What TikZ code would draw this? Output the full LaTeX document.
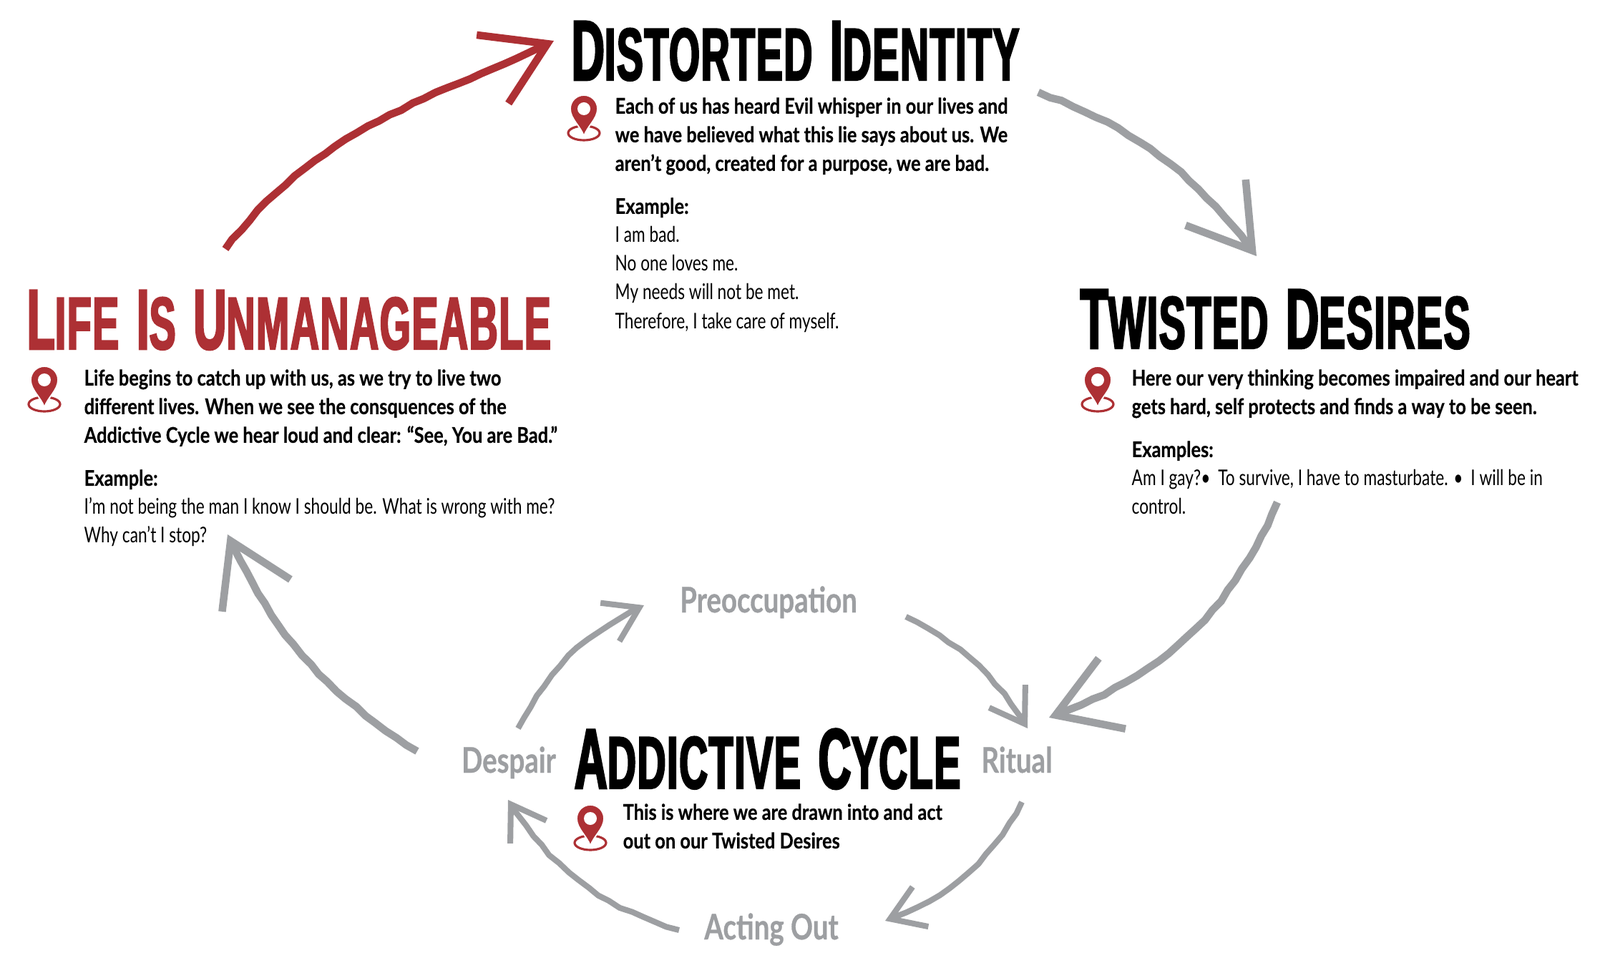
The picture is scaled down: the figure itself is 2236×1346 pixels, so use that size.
\documentclass[tikz,border=0pt]{standalone}
\usepackage{fontspec}
\setmainfont{Lato}[FakeStretch=0.75,BoldFeatures={FakeStretch=0.84,FakeBold=0.4}]
\newfontfamily\titleFont{Liberation Sans}[FakeStretch=0.535,LetterSpace=1.5,BoldFeatures={FakeStretch=0.535,FakeBold=2.2,LetterSpace=1.5}]
\newfontfamily\stageFont{Lato}[FakeStretch=0.78,BoldFeatures={FakeStretch=0.78,FakeBold=0.6}]
\usetikzlibrary{arrows.meta, bending, decorations.pathmorphing}
\definecolor{pinRed}{RGB}{173, 48, 52}
\definecolor{chalkGray}{RGB}{157, 159, 162}

% small-caps titles: big first letter, smaller rest
\newcommand{\bigCap}[2]{{\fontsize{34}{34}\selectfont #1}{\fontsize{29.5}{30}\selectfont #2}}
\newcommand{\titleGap}{\hspace{7pt}}
\newcommand{\lineStrut}{\rule{0pt}{8pt}}

\tikzset{
    titleText/.style={anchor=base west, inner sep=0pt, font=\titleFont\bfseries},
    bodyText/.style={anchor=north west, inner sep=0pt, align=left, font=\fontsize{8.6}{11.38}\selectfont},
    stageText/.style={anchor=base, inner sep=0pt, text=chalkGray, font=\stageFont\fontsize{14}{16}\selectfont\bfseries},
    chalkLine/.style={line width=3pt, draw=chalkGray, decorate, decoration={random steps, segment length=5pt, amplitude=0.35pt, post length=6pt}},
    outerArrow/.style={chalkLine, -{Straight Barb[length=24pt, width=30pt, bend]}},
    innerArrow/.style={chalkLine, line width=2.3pt, -{Straight Barb[length=13pt, width=17pt, bend]}},
    pinIcon/.pic={
        \draw[pinRed, line width=0.9pt] (0,0) ellipse [x radius=22, y radius=10];
        \fill[pinRed, draw=white, line width=0.5pt] (0,4) .. controls (-5,-10) and (-19,-20) .. (-19,-34)
            .. controls (-19,-45) and (-10,-53) .. (0,-53)
            .. controls (10,-53) and (19,-45) .. (19,-34)
            .. controls (19,-20) and (5,-10) .. (0,4) -- cycle;
        \fill[white] (0,-34) ellipse [x radius=9, y radius=9];
    }
}

\begin{document}
\begin{tikzpicture}[x=0.01cm, y=-0.01cm]
    \useasboundingbox (0,0) rectangle (2236,1346);

    % titles
    \node[titleText] (distTitle) at (798,112) {\bigCap{D}{ISTORTED}\titleGap\bigCap{I}{DENTITY}};
    \node[titleText, text=pinRed] (lifeTitle) at (37,488) {\bigCap{L}{IFE}\titleGap\bigCap{I}{S}\titleGap\bigCap{U}{NMANAGEABLE}};
    \node[titleText] (twistTitle) at (1509,487) {\bigCap{T}{WISTED}\titleGap\bigCap{D}{ESIRES}};
    \node[titleText] (addTitle) at (802,1102) {\bigCap{A}{DDICTIVE}\titleGap\bigCap{C}{YCLE}};

    % body texts
    \node[bodyText] (distBody) at (859,130) {\lineStrut\textbf{Each of us has heard Evil whisper in our lives and}\\
        \textbf{we have believed what this lie says about us. We}\\
        \textbf{aren’t good, created for a purpose, we are bad.}\\[5.7pt]
        \textbf{Example:}\\
        I am bad.\\
        No one loves me.\\
        My needs will not be met.\\
        Therefore, I take care of myself.};
    \node[bodyText] (lifeBody) at (117,510) {\lineStrut\textbf{Life begins to catch up with us, as we try to live two}\\
        \textbf{different lives. When we see the consquences of the}\\
        \textbf{Addictive Cycle we hear loud and clear: “See, You are Bad.”}\\[5.7pt]
        \textbf{Example:}\\
        I’m not being the man I know I should be. What is wrong with me?\\
        Why can’t I stop?};
    \node[bodyText] (twistBody) at (1581,510) {\lineStrut\textbf{Here our very thinking becomes impaired and our heart}\\
        \textbf{gets hard, self protects and finds a way to be seen.}\\[5.7pt]
        \textbf{Examples:}\\
        Am I gay?•\, To survive, I have to masturbate. •\, I will be in\\
        control.};
    \node[bodyText] (addBody) at (870,1117) {\lineStrut\textbf{This is where we are drawn into and act}\\
        \textbf{out on our Twisted Desires}};

    % stages of the inner cycle
    \node[stageText] (prep) at (1074,856) {Preoccupation};
    \node[stageText] (ritual) at (1421,1080) {Ritual};
    \node[stageText] (acting) at (1078,1313) {Acting Out};
    \node[stageText] (despair) at (711,1080) {Despair};

    % pins
    \pic at (816,186) {pinIcon};
    \pic at (62,565) {pinIcon};
    \pic at (1534,565) {pinIcon};
    \pic at (825,1178) {pinIcon};

    % outer cycle
    \draw[outerArrow, draw=pinRed] ([shift={(278,-140)}]lifeTitle.base west) to[out=52, in=205] ([shift={(-24,-55)}]distTitle.base west);
    \draw[outerArrow] ([shift={(653,17)}]distTitle.base west) to[bend left=16] ([shift={(247,-129)}]twistTitle.base west);
    \draw[outerArrow] ([shift={(276,215)}]twistTitle.base west) to[bend left=23] ([shift={(664,-99)}]addTitle.base west);
    \draw[outerArrow] ([shift={(-128,-30)}]despair.base) to[bend left=16] ([shift={(281,259)}]lifeTitle.base west);

    % inner cycle
    \draw[innerArrow] ([shift={(13,-62)}]despair.base) to[bend left=18] ([shift={(-174,-10)}]prep.base);
    \draw[innerArrow] ([shift={(192,6)}]prep.base) to[bend left=15] ([shift={(15,-62)}]ritual.base);
    \draw[innerArrow] ([shift={(7,41)}]ritual.base) to[bend left=20] ([shift={(159,-26)}]acting.base);
    \draw[innerArrow] ([shift={(-129,-13)}]acting.base) to[bend left=20] ([shift={(-1,38)}]despair.base);
\end{tikzpicture}
\end{document}
